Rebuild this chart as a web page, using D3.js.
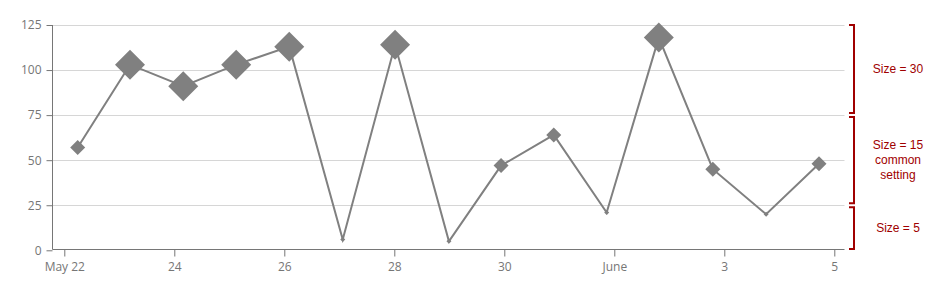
<!DOCTYPE html>
<html>
<head>
<meta charset="utf-8">
<script src="https://cdn.jsdelivr.net/npm/d3@7"></script>
<style>
  body { margin: 0; background: #fff; }
  svg { display: block; }
  .tick text { font-family: "Open Sans", sans-serif; font-size: 12px; fill: #767676; }
  .note { font-family: "Liberation Sans", Arial, sans-serif; font-size: 12px; fill: #a00000; }
</style>
</head>
<body>
<svg id="chart" width="929" height="295"></svg>
<script>
// point dates (timestamps are not on midnight in the source)
var dates = ["2024-05-22T05:50", "2024-05-23T04:40", "2024-05-24T03:55", "2024-05-25T03:00",
             "2024-05-26T02:10", "2024-05-27T01:30", "2024-05-28T00:20", "2024-05-28T23:50",
             "2024-05-29T22:35", "2024-05-30T21:35", "2024-05-31T20:40", "2024-06-01T19:25",
             "2024-06-02T19:00", "2024-06-03T18:15", "2024-06-04T17:20"];
var values = [57, 103, 91, 103, 113, 6, 114, 5, 47, 64, 21, 118, 45, 20, 48];

var yTicks = [0, 25, 50, 75, 100, 125];
var xTicks = ["2024-05-22", "2024-05-24", "2024-05-26", "2024-05-28", "2024-05-30",
              "2024-06-01", "2024-06-03", "2024-06-05"];

// marker size by value range
var rangeLow = [75, 25, 0];
var rangeHigh = [125, 75, 25];
var rangeSize = [30, 15, 5];
var rangeLabels = [["Size = 30"], ["Size = 15", "common", "setting"], ["Size = 5"]];

var parse = d3.timeParse("%Y-%m-%dT%H:%M");
var parseDay = d3.timeParse("%Y-%m-%d");

var data = dates.map(function (d, i) { return { date: parse(d), value: values[i] }; });

var svg = d3.select("#chart");
var plotLeft = 52.5, plotRight = 844.5, plotTop = 25, plotBottom = 249.5;

var x = d3.scaleTime()
    .domain([parseDay(xTicks[0]), parseDay(xTicks[xTicks.length - 1])])
    .range([64.3, 834.3]);
var y = d3.scaleLinear().domain([0, 125]).range([250.3, 25]);

// grid
svg.append("g").selectAll("line")
    .data(yTicks.filter(function (t) { return t > 0; }))
    .enter().append("line")
    .attr("x1", plotLeft).attr("x2", plotRight)
    .attr("y1", function (d) { return Math.round(y(d)) + 0.5; })
    .attr("y2", function (d) { return Math.round(y(d)) + 0.5; })
    .attr("stroke", "#d6d6d6").attr("stroke-width", 1);

// y axis
var yAxis = svg.append("g")
    .attr("transform", "translate(" + plotLeft + ",0)")
    .call(d3.axisLeft(y).tickValues(yTicks).tickSize(6).tickPadding(5).tickSizeOuter(0));
yAxis.select(".domain").remove();
yAxis.selectAll(".tick line").attr("stroke", "#767676");
yAxis.append("line").attr("x1", 0).attr("x2", 0).attr("y1", plotTop).attr("y2", plotBottom)
    .attr("stroke", "#767676");

// x axis
var fmt = function (d) {
    if (d.getDate() === 1) return d3.timeFormat("%B")(d);
    if (+d === +parseDay(xTicks[0])) return d3.timeFormat("%b %-d")(d);
    return d3.timeFormat("%-d")(d);
};
var xAxis = svg.append("g")
    .attr("transform", "translate(0," + plotBottom + ")")
    .call(d3.axisBottom(x).tickValues(xTicks.map(parseDay)).tickFormat(fmt)
        .tickSize(7).tickPadding(6).tickSizeOuter(0));
xAxis.select(".domain").remove();
xAxis.selectAll(".tick line").attr("stroke", "#767676");
xAxis.append("line").attr("x1", plotLeft).attr("x2", plotRight).attr("y1", 0).attr("y2", 0)
    .attr("stroke", "#767676");

// series line
var line = d3.line()
    .x(function (d) { return x(d.date); })
    .y(function (d) { return y(d.value); });
svg.append("path").datum(data)
    .attr("d", line)
    .attr("fill", "none")
    .attr("stroke", "#808080")
    .attr("stroke-width", 2);

var sizeOf = function (v) {
    for (var i = 0; i < rangeLow.length; i++) {
        if (v > rangeLow[i]) return rangeSize[i];
    }
    return rangeSize[rangeSize.length - 1];
};
var diamond = function (s) {
    var h = s / 2;
    return "M0," + (-h) + "L" + h + ",0L0," + h + "L" + (-h) + ",0Z";
};
svg.append("g").selectAll("path")
    .data(data)
    .enter().append("path")
    .attr("transform", function (d) { return "translate(" + x(d.date) + "," + y(d.value) + ")"; })
    .attr("d", function (d) { return diamond(sizeOf(d.value)); })
    .attr("fill", "#808080");

// range brackets
var bx = 854;
rangeLow.forEach(function (lo, i) {
    var y1 = y(rangeHigh[i]) + (rangeHigh[i] < 125 ? 2 : 0);
    var y2 = y(lo) - (lo > 0 ? 2 : 0);
    if (lo === 0) y2 = plotBottom - 0.5;
    svg.append("path")
        .attr("d", "M" + (bx - 5) + "," + y1 + "H" + bx + "V" + y2 + "H" + (bx - 5))
        .attr("fill", "none").attr("stroke", "#a00000").attr("stroke-width", 2);
    var lines = rangeLabels[i];
    var cy = (y1 + y2) / 2;
    var lh = 15;
    var t = svg.append("text").attr("class", "note").attr("text-anchor", "middle");
    lines.forEach(function (s, j) {
        t.append("tspan")
            .attr("x", 898)
            .attr("y", cy + (j - (lines.length - 1) / 2) * lh)
            .attr("dy", "0.35em")
            .text(s);
    });
});
</script>
</body>
</html>
